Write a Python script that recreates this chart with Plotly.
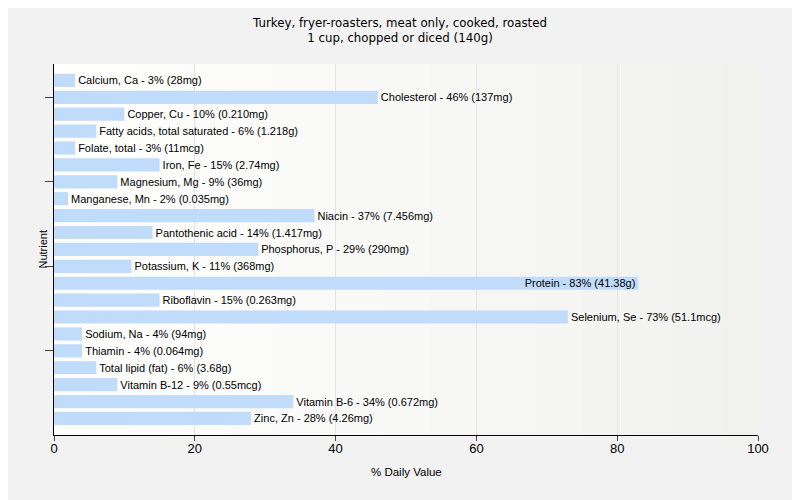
import plotly.graph_objects as go

nutrients = ["Calcium, Ca", "Cholesterol", "Copper, Cu", "Fatty acids, total saturated",
             "Folate, total", "Iron, Fe", "Magnesium, Mg", "Manganese, Mn", "Niacin",
             "Pantothenic acid", "Phosphorus, P", "Potassium, K", "Protein", "Riboflavin",
             "Selenium, Se", "Sodium, Na", "Thiamin", "Total lipid (fat)", "Vitamin B-12",
             "Vitamin B-6", "Zinc, Zn"]
daily_pct = [3, 46, 10, 6, 3, 15, 9, 2, 37, 14, 29, 11, 83, 15, 73, 4, 4, 6, 9, 34, 28]
amounts = ["28mg", "137mg", "0.210mg", "1.218g", "11mcg", "2.74mg", "36mg", "0.035mg",
           "7.456mg", "1.417mg", "290mg", "368mg", "41.38g", "0.263mg", "51.1mcg", "94mg",
           "0.064mg", "3.68g", "0.55mcg", "0.672mg", "4.26mg"]
x_ticks = [0, 20, 40, 60, 80, 100]

labels = [f"{n} - {p}% ({a})" for n, p, a in zip(nutrients, daily_pct, amounts)]
positions = ["inside" if p > 75 else "outside" for p in daily_pct]

font = "Liberation Sans, Arial, sans-serif"

fig = go.Figure(go.Bar(
    x=daily_pct, y=nutrients, orientation="h",
    marker=dict(color="#c1dbfb", line=dict(width=0)),
    width=0.78,
    text=labels, textposition=positions, insidetextanchor="end",
    textfont=dict(family=font, size=11, color="#000000"),
    constraintext="none", cliponaxis=False, hoverinfo="skip",
))

# gradient plot background
n = 60
shapes = []
for i in range(n):
    t = i / (n - 1)
    c = int(round(255 - t * 14))
    shapes.append(dict(type="rect", xref="x domain", yref="y domain",
                       x0=i / n, x1=(i + 1) / n + 0.002, y0=0, y1=1,
                       fillcolor=f"rgb({c},{c},{max(c-1,0)})", line=dict(width=0),
                       layer="below"))

fig.update_layout(
    width=800, height=500,
    paper_bgcolor="#f2f2f2", plot_bgcolor="rgba(0,0,0,0)",
    margin=dict(l=46, r=50, t=56, b=73, autoexpand=False),
    shapes=shapes,
    showlegend=False,
    font=dict(family=font, size=12, color="#000000"),
    title=dict(text="Turkey, fryer-roasters, meat only, cooked, roasted<br>1 cup, chopped or diced (140g)",
               x=0.49, xref="container", y=0.962, yanchor="top",
               font=dict(family="DejaVu Sans, sans-serif", size=11.8)),
    bargap=0.2,
    annotations=[
        dict(text="% Daily Value", xref="paper", yref="paper", x=0.5, y=-0.1,
             xanchor="center", yanchor="middle", yshift=0, showarrow=False,
             font=dict(family=font, size=11.5)),
        dict(text="Nutrient", xref="paper", yref="paper", x=0, xshift=-12, y=0.5,
             yshift=0, textangle=-90,
             xanchor="center", yanchor="middle", showarrow=False,
             font=dict(family=font, size=11)),
    ],
)
fig.update_xaxes(range=[0, 100], tickvals=x_ticks, ticks="outside", ticklen=5,
                 showline=True, linecolor="#000000", linewidth=1, automargin=False,
                 showgrid=True, gridcolor="#e2e2e2", gridwidth=1, zeroline=False,
                 ticklabelstandoff=-4,
                 tickfont=dict(size=13))
fig.update_yaxes(type="category", categoryorder="array", categoryarray=nutrients,
                 range=[20.98, -0.97], automargin=False,
                 tickvals=[nutrients[i] for i in (1, 6, 11, 16)], ticktext=["", "", "", ""],
                 ticks="outside", ticklen=8, showline=True, linecolor="#000000", linewidth=1,
                 showgrid=False, zeroline=False)

fig.write_html("out.html")
